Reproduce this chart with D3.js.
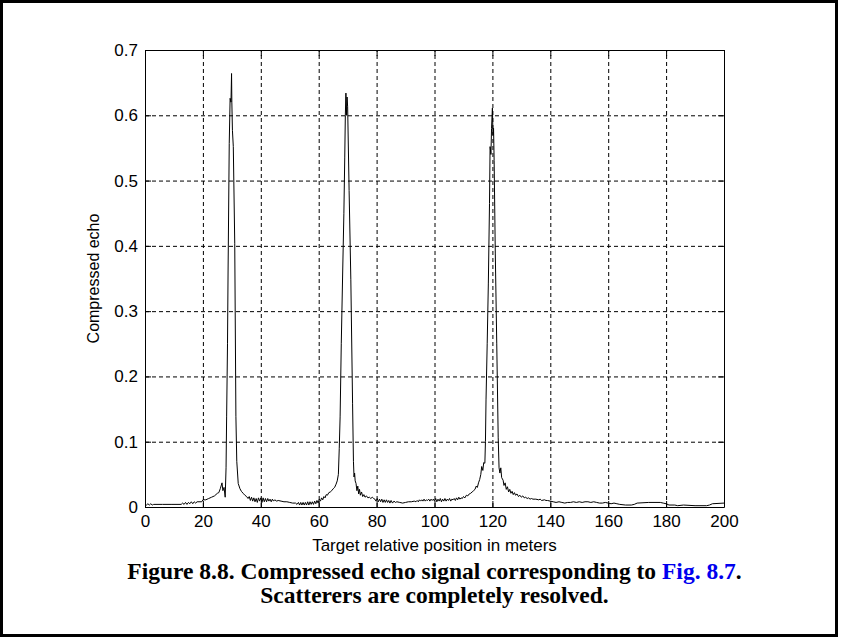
<!DOCTYPE html>
<html>
<head>
<meta charset="UTF-8">
<title>Compressed echo signal</title>
<script src="https://d3js.org/d3.v7.min.js"></script>
<style>
    body { margin: 0; background: #fff; }
    .tick text { font-family: "Liberation Sans", Arial, sans-serif; font-size: 17px; fill: #000; }
    .grid line { stroke: #000; stroke-dasharray: 4 3; }
    .grid path { display: none; }
</style>
</head>
<body>
<div id="chart"></div>
<script>
    // Tick values
    var xTicks = [0, 20, 40, 60, 80, 100, 120, 140, 160, 180, 200];
    var yTicks = [0, 0.1, 0.2, 0.3, 0.4, 0.5, 0.6, 0.7];

    // Target position (m)
    var positions = [
        0, 0.5, 1, 1.5, 2, 2.5, 3, 6, 9, 12.5,
        13, 13.5, 14, 14.5, 15, 15.5, 16, 16.5, 17, 17.5, 18, 19, 19.6,
        20, 21, 22, 23, 24, 25, 25.5, 26, 26.6, 26.9, 27.3, 27.7,
        28.0, 28.2, 28.5, 28.7, 29.1, 29.4, 29.7, 29.9, 30.0, 30.2, 30.5, 31.0, 31.4, 31.7, 32.2,
        32.8, 33.3, 33.9, 34.5, 35.1, 35.6, 36, 36.4, 36.8, 37.2, 37.6, 38, 38.4, 38.8, 39.2, 39.6,
        40, 40.4, 40.8, 41.2, 41.6, 42, 42.4, 42.8, 43.2, 43.6, 44, 44.4, 44.8, 45.5, 46, 47, 48, 49,
        50, 51, 52, 52.5, 53, 53.4, 53.8, 54.2, 54.6, 55, 55.4, 55.8, 56.2, 56.6, 57, 57.4, 57.8,
        58.2, 58.6, 59, 59.4, 59.8, 60.2, 60.6, 61, 61.4, 61.8, 62.2, 62.6, 63, 63.5, 64, 64.5,
        65, 65.5, 66, 66.4, 66.8,
        67.1, 67.4, 67.8, 68.3, 68.7, 69.0, 69.2, 69.4, 69.6, 69.8, 70.0, 70.5, 71.1, 71.7, 72.0,
        72.2, 72.4, 72.6, 72.9, 73.2, 73.5, 73.8, 74.1, 74.4, 74.8, 75.2, 75.6, 76, 76.5, 77, 77.5,
        78, 78.5, 79, 79.4, 79.8, 80.2, 80.6, 81, 81.4, 81.8, 82.2, 82.6, 83, 83.4, 83.8, 84.2,
        84.6, 85, 85.5, 86, 86.5, 87, 88, 89, 90, 91, 92, 93, 93.6, 94, 94.4, 94.8, 95.2, 95.6,
        96, 96.4, 96.8, 97.2, 97.6, 98, 98.4, 98.8, 99.2, 99.6, 100, 100.4, 100.8, 101.2, 101.6,
        102, 102.4, 102.8, 103.2, 103.6, 104, 104.4, 104.8, 105.2, 105.6, 106, 106.4, 106.8, 107.2,
        107.6, 108, 108.4, 108.8, 109.2, 109.6, 110, 110.5, 111, 111.5, 112, 112.5, 113, 113.5,
        114, 114.4, 114.8, 115.2, 115.6, 116, 116.3, 116.7, 117, 117.4,
        117.6, 117.8, 118.2, 118.6, 119.0, 119.2, 119.5, 119.7, 120.0, 120.2, 120.4, 120.6, 121.0,
        121.5, 122.0, 122.3, 122.6, 122.9, 123.2, 123.7, 124, 124.4, 124.8, 125.2, 125.6, 126,
        126.4, 126.8, 127.2, 127.6, 128, 128.5, 129, 129.5, 130, 130.5, 131, 131.5, 132, 132.5,
        133, 133.5, 134, 135, 136, 136.5, 137, 138, 138.5, 139, 140, 141, 142, 143, 144, 145,
        146, 147, 148, 149, 150, 151, 152, 153, 154, 155, 156, 157, 158, 159, 160, 161, 162, 163,
        164, 166, 168, 169, 170, 174, 178, 179, 180, 181, 183, 184, 186, 190, 194, 195, 196, 200
    ];

    // Compressed echo amplitude at each position
    var echo = [
        0.004, 0.003, 0.005, 0.003, 0.005, 0.003, 0.004, 0.004, 0.004, 0.004,
        0.006, 0.004, 0.007, 0.004, 0.007, 0.005, 0.008, 0.005, 0.008, 0.006, 0.008, 0.008, 0.008,
        0.011, 0.011, 0.013, 0.015, 0.017, 0.021, 0.022, 0.028, 0.037, 0.025, 0.030, 0.015,
        0.060, 0.138, 0.250, 0.363, 0.557, 0.626, 0.620, 0.664, 0.620, 0.577, 0.552, 0.404, 0.139, 0.070, 0.036,
        0.028, 0.024, 0.021, 0.018, 0.016, 0.013, 0.016, 0.010, 0.015, 0.009, 0.014, 0.008, 0.013, 0.007, 0.014, 0.009,
        0.014, 0.007, 0.014, 0.008, 0.013, 0.008, 0.013, 0.009, 0.012, 0.008, 0.012, 0.009, 0.011, 0.009, 0.010, 0.009, 0.008, 0.008,
        0.007, 0.006, 0.006, 0.004, 0.007, 0.003, 0.007, 0.003, 0.007, 0.003, 0.007, 0.003, 0.008, 0.003, 0.008, 0.004, 0.008,
        0.004, 0.009, 0.005, 0.010, 0.006, 0.012, 0.009, 0.014, 0.011, 0.016, 0.014, 0.019, 0.018, 0.022, 0.023, 0.025,
        0.028, 0.030, 0.035, 0.040, 0.050,
        0.090, 0.138, 0.250, 0.363, 0.450, 0.536, 0.600, 0.634, 0.600, 0.628, 0.613, 0.485, 0.348, 0.159, 0.070,
        0.046, 0.052, 0.040, 0.036, 0.025, 0.032, 0.020, 0.027, 0.018, 0.023, 0.016, 0.019, 0.015, 0.017, 0.014, 0.015,
        0.013, 0.015, 0.013, 0.012, 0.009, 0.013, 0.008, 0.012, 0.008, 0.012, 0.007, 0.011, 0.007, 0.011, 0.007, 0.010,
        0.006, 0.010, 0.006, 0.009, 0.007, 0.008, 0.007, 0.006, 0.007, 0.008, 0.008, 0.009, 0.008, 0.010, 0.008, 0.011, 0.009, 0.011,
        0.009, 0.012, 0.009, 0.011, 0.010, 0.012, 0.009, 0.012, 0.010, 0.012, 0.009, 0.013, 0.008, 0.012, 0.009,
        0.013, 0.008, 0.012, 0.009, 0.013, 0.009, 0.012, 0.010, 0.013, 0.009, 0.012, 0.011, 0.013, 0.010,
        0.014, 0.011, 0.015, 0.012, 0.014, 0.013, 0.016, 0.014, 0.018, 0.017, 0.020, 0.021, 0.023, 0.025,
        0.027, 0.032, 0.030, 0.037, 0.042, 0.050, 0.062, 0.056, 0.068, 0.067,
        0.100, 0.164, 0.250, 0.343, 0.465, 0.552, 0.540, 0.580, 0.611, 0.570, 0.580, 0.531, 0.389,
        0.251, 0.107, 0.060, 0.052, 0.060, 0.045, 0.041, 0.033, 0.037, 0.027, 0.031, 0.023, 0.027,
        0.021, 0.024, 0.019, 0.022, 0.018, 0.020, 0.016, 0.018, 0.015, 0.017, 0.014, 0.015, 0.013, 0.014,
        0.012, 0.013, 0.012, 0.012, 0.011, 0.012, 0.010, 0.011, 0.010, 0.010, 0.009, 0.008, 0.007, 0.008, 0.007, 0.006,
        0.007, 0.007, 0.008, 0.007, 0.008, 0.007, 0.008, 0.008, 0.007, 0.008, 0.007, 0.006, 0.006, 0.007, 0.006, 0.005, 0.006, 0.005,
        0.004, 0.003, 0.003, 0.004, 0.006, 0.007, 0.007, 0.006, 0.005, 0.003, 0.003, 0.002, 0.003, 0.002, 0.002, 0.003, 0.005, 0.006
    ];

    var W = 841, H = 639;
    // plot box in page pixels
    var plotL = 145, plotR = 724, plotT = 50, plotB = 507;

    var svg = d3.select("#chart").append("svg")
        .attr("width", W)
        .attr("height", H);

    // outer frame
    svg.append("rect")
        .attr("x", 1.5).attr("y", 1.5)
        .attr("width", 835).attr("height", 634)
        .attr("fill", "none")
        .attr("stroke", "#000")
        .attr("stroke-width", 3);

    var xScale = d3.scaleLinear().domain([0, 200]).range([plotL, plotR]);
    var yScale = d3.scaleLinear().domain([0, 0.7]).range([plotB, plotT]);

    // dashed grid
    svg.append("g")
        .attr("class", "grid")
        .attr("transform", "translate(0," + plotB + ")")
        .call(d3.axisBottom(xScale).tickValues(xTicks.slice(1, -1)).tickSize(-(plotB - plotT)).tickFormat(""));
    svg.append("g")
        .attr("class", "grid")
        .attr("transform", "translate(" + plotL + ",0)")
        .call(d3.axisLeft(yScale).tickValues(yTicks.slice(1, -1)).tickSize(-(plotR - plotL)).tickFormat(""));

    // the echo trace
    var line = d3.line()
        .x(function(d, i) { return xScale(positions[i]); })
        .y(function(d) { return yScale(d); });

    svg.append("path")
        .datum(echo)
        .attr("d", line)
        .attr("fill", "none")
        .attr("stroke", "#000")
        .attr("stroke-width", 1);

    // axes, ticks pointing inward
    svg.append("g")
        .attr("transform", "translate(0," + plotB + ")")
        .call(d3.axisBottom(xScale).tickValues(xTicks).tickSizeInner(-6).tickSizeOuter(0).tickPadding(8)
            .tickFormat(d3.format("d")));
    svg.append("g")
        .attr("transform", "translate(" + plotL + ",0)")
        .call(d3.axisLeft(yScale).tickValues(yTicks).tickSizeInner(-6).tickSizeOuter(0).tickPadding(7)
            .tickFormat(function(d) { return d === 0 ? "0" : d3.format(".1f")(d); }));
    svg.append("g")
        .attr("transform", "translate(0," + plotT + ")")
        .call(d3.axisTop(xScale).tickValues(xTicks).tickSizeInner(-6).tickSizeOuter(0).tickFormat(""));
    svg.append("g")
        .attr("transform", "translate(" + plotR + ",0)")
        .call(d3.axisRight(yScale).tickValues(yTicks).tickSizeInner(-6).tickSizeOuter(0).tickFormat(""));

    svg.selectAll(".domain, .tick line").attr("stroke", "#000");

    // axis titles
    svg.append("text")
        .attr("x", (plotL + plotR) / 2)
        .attr("y", 551)
        .attr("text-anchor", "middle")
        .style("font-family", "Liberation Sans, Arial, sans-serif")
        .style("font-size", "17px")
        .text("Target relative position in meters");

    svg.append("text")
        .attr("transform", "translate(99," + (plotT + plotB) / 2 + ") rotate(-90)")
        .attr("text-anchor", "middle")
        .style("font-family", "Liberation Sans, Arial, sans-serif")
        .style("font-size", "16px")
        .text("Compressed echo");

    // figure caption
    var cap = svg.append("g")
        .style("font-family", "Liberation Serif, Times New Roman, serif")
        .style("font-weight", "bold")
        .style("font-size", "23.5px")
        .attr("text-anchor", "middle");

    var line1 = cap.append("text").attr("x", (plotL + plotR) / 2).attr("y", 579);
    line1.append("tspan").text("Figure 8.8. Compressed echo signal corresponding to ");
    line1.append("tspan").attr("fill", "#0000ee").text("Fig. 8.7");
    line1.append("tspan").text(".");

    cap.append("text")
        .attr("x", (plotL + plotR) / 2)
        .attr("y", 603)
        .text("Scatterers are completely resolved.");
</script>
</body>
</html>
